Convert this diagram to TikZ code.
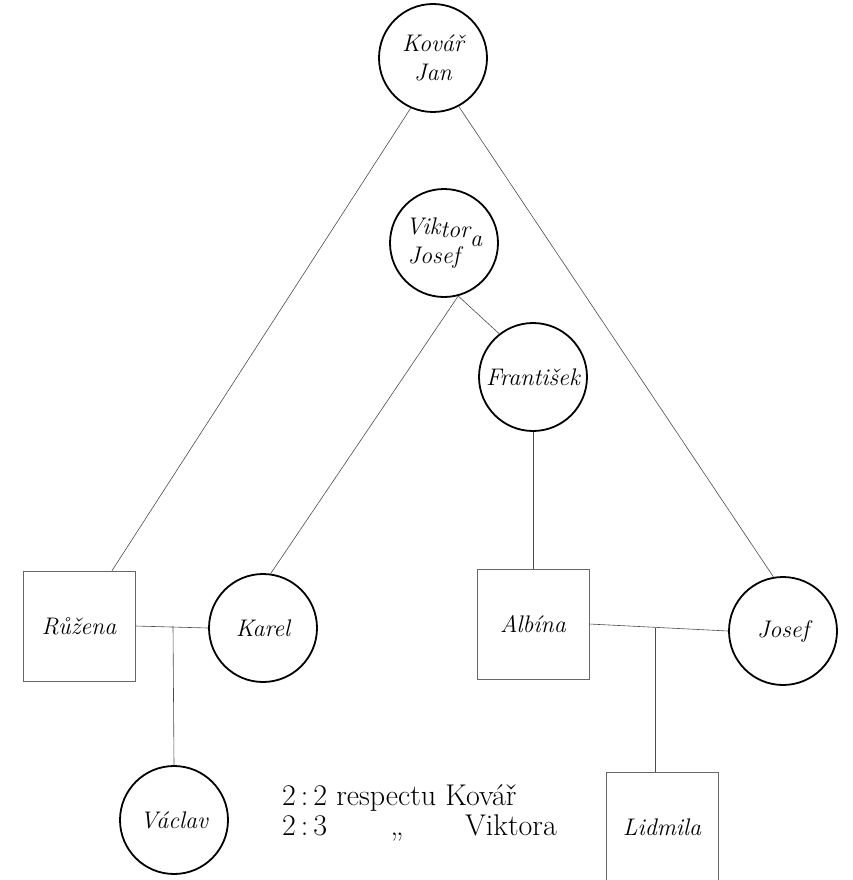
\documentclass[tikz,border=0pt]{standalone}
\usepackage{fontspec}
\newcommand{\spaced}[1]{{\addfontfeature{LetterSpace=6}#1}}
\begin{document}
\begin{tikzpicture}[x=1pt,y=-1pt,
  person/.style={circle,draw=black,line width=1.8pt,minimum size=108pt,inner sep=0pt,
    font=\fontsize{24}{29}\selectfont\itshape,align=center},
  female/.style={rectangle,draw=black!60,line width=0.7pt,minimum width=112pt,minimum height=110pt,inner sep=0pt,
    font=\fontsize{24}{29}\selectfont\itshape},
  link/.style={draw=black!70,line width=0.6pt},
  note/.style={font=\fontsize{30}{34}\selectfont,inner sep=0pt}]
\useasboundingbox (0,0) rectangle (853,880);

% persons
\node[person] (kovar) at (433,58) {Kovář\\Jan};
\node[person] (viktora) at (444,243)
  {\begin{tabular}{@{}l@{}}Vik\raisebox{-3pt}{tor}\raisebox{-12pt}{a}\\[-4pt]\hspace{2pt}Josef\end{tabular}};
\node[person] (frantisek) at (533,377) {\spaced{František}};
\node[female] (ruzena) at (79,626) {Růžena};
\node[person] (karel) at (263,628) {Karel};
\node[female] (albina) at (533,624) {Albína};
\node[person] (josef) at (783,631) {\spaced{Josef}};
\node[person] (vaclav) at (174,820) {Václav};
\node[female] (lidmila) at (662,827) {Lidmila};

% descent lines
\draw[link] (kovar.-114) -- ([xshift=33pt]ruzena.north);
\draw[link] (kovar.-62) -- (josef.100);
\draw[link] (viktora.-75) -- (karel.82);
\draw[link] (viktora.-75) -- (frantisek.128);
\draw[link] (frantisek.south) -- (albina.north);

% marriages and their children
\draw[link] (ruzena.east) -- (karel.west);
\coordinate (m1) at (173,626);
\draw[link] (m1) -- (vaclav.north);
\draw[link] (albina.east) -- (josef.west);
\coordinate (m2) at (655,628);
\draw[link] (m2) -- (m2 |- lidmila.north);

% degree of kinship
\node[note,anchor=base west] (n1) at (282,805) {2\,:\,2 respectu Kovář};
\node[note,anchor=base west] (n2) at (282,835) {2\,:\,3};
\node[note,anchor=base] (n3) at (397,835) {,,};
\node[note,anchor=base east] (n4) at (557,835) {Viktora};
\end{tikzpicture}
\end{document}
